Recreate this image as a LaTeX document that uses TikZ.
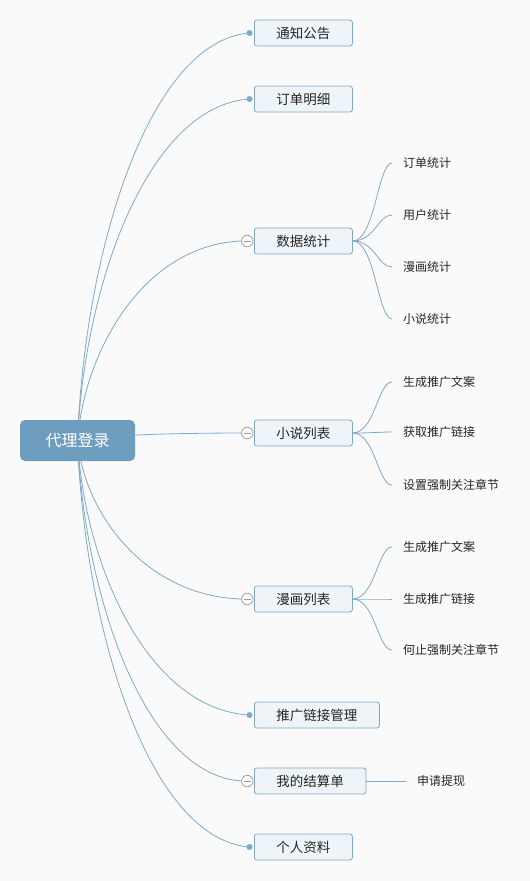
\documentclass[tikz,border=0pt]{standalone}
\usepackage{fontspec}
\newfontfamily\cjk{Noto Sans CJK SC}
\usetikzlibrary{calc,backgrounds}
\definecolor{bg}{HTML}{FAFAFA}
\definecolor{rootblue}{HTML}{6E9DC0}
\definecolor{lineblue}{HTML}{7FA9CA}
\definecolor{boxfill}{HTML}{EEF4F8}
\definecolor{boxdraw}{HTML}{7EA8C8}
\definecolor{knob}{HTML}{999999}
\definecolor{ink}{HTML}{262626}
\newcommand\rootcurve[2]{%
  \draw[conn] (#1) .. controls ($(#1)!0.46!(#1|-#2) + (7,0)$) and ($(#2)!0.58!(#1|-#2)!0.02!(#1)$) .. (#2);}
\newcommand\subcurve[2]{%
  \draw[conn] (#1) .. controls +(22,0) and +(-14,0) .. (#2);}
\begin{document}
\begin{tikzpicture}[x=1pt,y=-1pt,
  rootbox/.style={fill=rootblue, rounded corners=5pt, minimum width=115pt, minimum height=41pt, text=white, font=\cjk\fontsize{16}{16}\selectfont, inner sep=0pt},
  topic/.style={draw=boxdraw, fill=boxfill, rounded corners=2.5pt, line width=0.8pt, minimum height=26pt, inner xsep=22pt, inner ysep=0pt, anchor=west, font=\cjk\fontsize{13.5}{13.5}\selectfont, text=ink},
  leaf/.style={anchor=west, inner xsep=11pt, inner ysep=2pt, font=\cjk\fontsize{12}{12}\selectfont, text=ink},
  dotend/.style={circle, fill=lineblue, inner sep=0pt, minimum size=6pt},
  knobend/.style={circle, draw=knob, fill=white, line width=0.7pt, inner sep=0pt, minimum size=11.5pt,
    path picture={\draw[knob, line width=0.8pt] ([xshift=-3.6pt]path picture bounding box.center) -- ([xshift=3.6pt]path picture bounding box.center);}},
  conn/.style={draw=lineblue, line width=0.8pt},
]
\useasboundingbox (0,0) rectangle (530,881);

\node[rootbox] (root) at (77.5,440.5) {代理登录};

\node[topic] (n1) at (254,33) {通知公告};
\node[topic] (n2) at (254,99) {订单明细};
\node[topic] (n3) at (254,241) {数据统计};
\node[topic] (n4) at (254,433) {小说列表};
\node[topic] (n5) at (254,599) {漫画列表};
\node[topic] (n6) at (254,715) {推广链接管理};
\node[topic] (n7) at (254,781) {我的结算单};
\node[topic] (n8) at (254,847) {个人资料};

\node[dotend] (d1) at (249.5,33) {};
\node[dotend] (d2) at (249.5,99) {};
\node[knobend] (k3) at (247.3,241) {};
\node[knobend] (k4) at (247.3,433) {};
\node[knobend] (k5) at (247.3,599) {};
\node[dotend] (d6) at (249.5,715) {};
\node[knobend] (k7) at (247.3,781) {};
\node[dotend] (d8) at (249.5,847) {};

\node[leaf] (l31) at (392,163) {订单统计};
\node[leaf] (l32) at (392,215) {用户统计};
\node[leaf] (l33) at (392,267) {漫画统计};
\node[leaf] (l34) at (392,319) {小说统计};
\node[leaf] (l41) at (392,382) {生成推广文案};
\node[leaf] (l42) at (392,432) {获取推广链接};
\node[leaf] (l43) at (392,485) {设置强制关注章节};
\node[leaf] (l51) at (392,547) {生成推广文案};
\node[leaf] (l52) at (392,599) {生成推广链接};
\node[leaf] (l53) at (392,650) {何止强制关注章节};
\node[leaf] (l71) at (406,781) {申请提现};

\begin{pgfonlayer}{background}
\fill[bg] (0,0) rectangle (530,881);
\rootcurve{root.center}{d1.center}
\rootcurve{root.center}{d2.center}
\rootcurve{root.center}{k3.west}
\rootcurve{root.center}{k4.west}
\rootcurve{root.center}{k5.west}
\rootcurve{root.center}{d6.center}
\rootcurve{root.center}{k7.west}
\rootcurve{root.center}{d8.center}
\subcurve{n3.east}{l31.west}
\subcurve{n3.east}{l32.west}
\subcurve{n3.east}{l33.west}
\subcurve{n3.east}{l34.west}
\subcurve{n4.east}{l41.west}
\subcurve{n4.east}{l42.west}
\subcurve{n4.east}{l43.west}
\subcurve{n5.east}{l51.west}
\subcurve{n5.east}{l52.west}
\subcurve{n5.east}{l53.west}
\draw[conn] (n7.east) -- (l71.west);
\end{pgfonlayer}
\end{tikzpicture}
\end{document}
